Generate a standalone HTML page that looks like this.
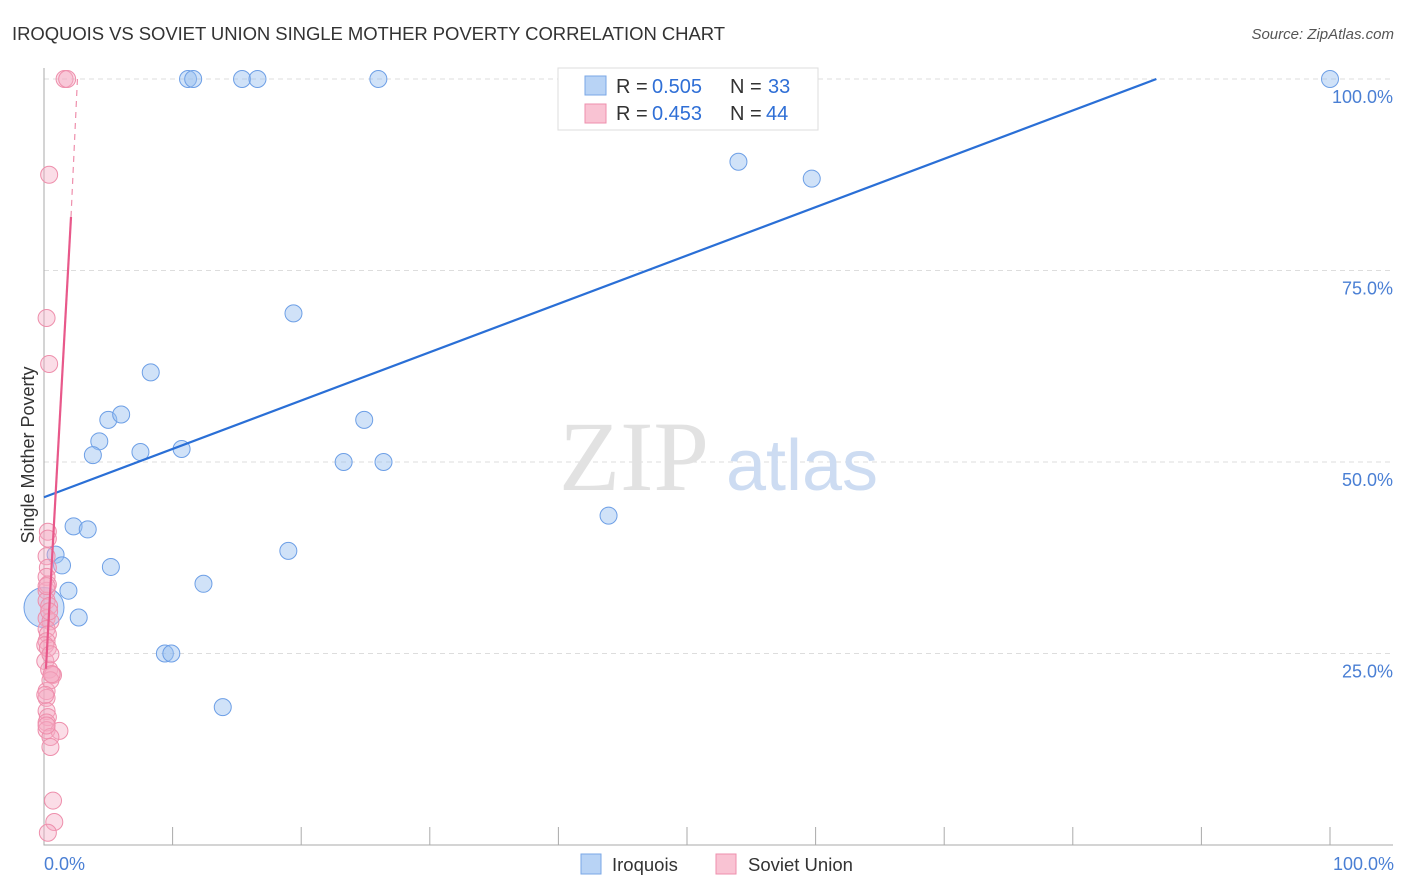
<!DOCTYPE html>
<html><head><meta charset="utf-8"><style>
body{margin:0;background:#fff;font-family:"Liberation Sans",sans-serif}
svg{display:block}
</style></head><body>
<svg id="c" width="1406" height="892">
<text x="12" y="40" font-size="18.5" fill="#333" textLength="713">IROQUOIS VS SOVIET UNION SINGLE MOTHER POVERTY CORRELATION CHART</text>
<text x="1394" y="39" font-size="15" fill="#555" font-style="italic" text-anchor="end">Source: ZipAtlas.com</text>
<g id="grid"></g>
<text x="634" y="490" font-size="100" fill="#e2e2e2" font-family="Liberation Serif" text-anchor="middle">ZIP</text>
<text x="802" y="490" font-size="72" fill="#cddcf2" text-anchor="middle">atlas</text>
<g id="pts"></g>
<g id="lines"></g>
<text transform="translate(34,455) rotate(-90)" font-size="18" fill="#333" text-anchor="middle">Single Mother Poverty</text>
<text x="44" y="870" font-size="18" fill="#4a7fd4">0.0%</text>
<text x="1394" y="870" font-size="18" fill="#4a7fd4" text-anchor="end">100.0%</text>
<g>
<rect x="558" y="68" width="260" height="62" fill="#fff" stroke="#ddd"/>
<rect x="585" y="76" width="21" height="19" fill="#b8d3f5" stroke="#7aa7e6"/>
<rect x="585" y="104" width="21" height="19" fill="#f9c3d3" stroke="#ee8fac"/>
<text x="616" y="93" font-size="20" fill="#333">R = </text><text x="652" y="93" font-size="20" fill="#2f6fd6">0.505</text>
<text x="730" y="93" font-size="20" fill="#333">N = </text><text x="768" y="93" font-size="20" fill="#2f6fd6">33</text>
<text x="616" y="120" font-size="20" fill="#333">R = </text><text x="652" y="120" font-size="20" fill="#2f6fd6">0.453</text>
<text x="730" y="120" font-size="20" fill="#333">N = </text><text x="766" y="120" font-size="20" fill="#2f6fd6">44</text>
</g>
<g>
<rect x="581" y="854" width="20" height="20" fill="#b8d3f5" stroke="#7aa7e6"/>
<text x="612" y="871" font-size="18.5" fill="#333">Iroquois</text>
<rect x="716" y="854" width="20" height="20" fill="#f9c3d3" stroke="#ee8fac"/>
<text x="748" y="871" font-size="18.5" fill="#333">Soviet Union</text>
</g>
</svg>
<script>
const yTicks=[25,50,75,100];
const yTickLabels=["25.0%","50.0%","75.0%","100.0%"];
const iroquoisX=[11.2,11.6,15.4,16.6,26,100,54,59.7,19.4,8.3,5,6,24.9,4.3,3.8,7.5,10.7,23.3,26.4,43.9,2.3,3.4,0.9,1.4,5.2,19,1.9,12.4,2.7,9.4,9.9,13.9,0];
const iroquoisY=[100,100,100,100,100,100,89.2,87,69.4,61.7,55.5,56.2,55.5,52.7,50.9,51.3,51.7,50,50,43,41.6,41.2,37.9,36.5,36.3,38.4,33.2,34.1,29.7,25,25,18,31];
const sovietX=[1.6,1.8,0.4,0.2,0.4,0.3,0.3,0.2,0.3,0.2,0.2,0.2,0.4,0.2,0.5,0.2,0.3,0.2,0.1,0.4,0.6,0.7,0.2,0.2,0.2,0.3,0.2,0.2,1.2,0.5,0.5,0.7,0.8,0.3,0.5,0.1,0.3,0.4,0.2,0.3,0.1,0.5,0.2,0.6];
const sovietY=[100,100,87.5,68.8,62.8,40.9,40,37.7,36.2,35,33.2,31.9,31.2,29.6,29.2,28.2,27.5,26.6,24,22.9,22.3,22.2,20.1,19.2,17.5,16.7,16,15,14.9,14.1,12.8,5.8,3,1.6,21.5,26.1,34,30.5,33.8,25.7,19.6,24.9,15.6,22.3];
const blueLine=[[0,45.4],[86.5,100]];
const pinkSolid=[[0.15,23],[2.1,82]];
const pinkDash=[[2.1,82],[2.6,100]];
const X=v=>44+v*12.86, Y=v=>845-v*7.66;
const NS="http://www.w3.org/2000/svg";
function mk(t,a,p){const e=document.createElementNS(NS,t);for(const k in a)e.setAttribute(k,a[k]);p.appendChild(e);return e;}
const g=document.getElementById('grid');
yTicks.forEach((t,i)=>{
 const l=mk('line',{x1:44,x2:1393,y1:Y(t),y2:Y(t),stroke:'#ddd','stroke-dasharray':'5,4'},g);
 
 
 const tx=mk('text',{x:1393,y:Y(t)+24,'font-size':18,fill:'#4a7fd4','text-anchor':'end'},g);
 tx.textContent=yTickLabels[i];
 
 
});
const ax=mk('path',{d:'M44,68 V845 H1393',fill:'none',stroke:'#aaa'},g);


for(let i=1;i<=10;i++){
 const t=mk('line',{x1:X(i*10),x2:X(i*10),y1:827,y2:845,stroke:'#aaa'},g);
 
 
}
const p=document.getElementById('pts');
iroquoisX.forEach((x,i)=>{
 const c=mk('circle',{cx:X(x),cy:Y(iroquoisY[i]),r:i==32?20:8.5,fill:'rgba(150,190,240,0.45)',stroke:'#6d9fe6','stroke-width':1},p);
 
 
});
sovietX.forEach((x,i)=>{
 const c=mk('circle',{cx:X(x),cy:Y(sovietY[i]),r:8.5,fill:'rgba(245,170,195,0.4)',stroke:'#ee8fac','stroke-width':1},p);
 
 
});
const L=document.getElementById('lines');
const bl=mk('line',{x1:X(blueLine[0][0]),y1:Y(blueLine[0][1]),x2:X(blueLine[1][0]),y2:Y(blueLine[1][1]),stroke:'#2a6fd6','stroke-width':2.2},L);


const ps=mk('line',{x1:X(pinkSolid[0][0]),y1:Y(pinkSolid[0][1]),x2:X(pinkSolid[1][0]),y2:Y(pinkSolid[1][1]),stroke:'#e8588a','stroke-width':2.2},L);


const pd=mk('line',{x1:X(pinkDash[0][0]),y1:Y(pinkDash[0][1]),x2:X(pinkDash[1][0]),y2:Y(pinkDash[1][1]),stroke:'#ee8fac','stroke-width':1.2,'stroke-dasharray':'6,5'},L);


</script>
</body></html>
